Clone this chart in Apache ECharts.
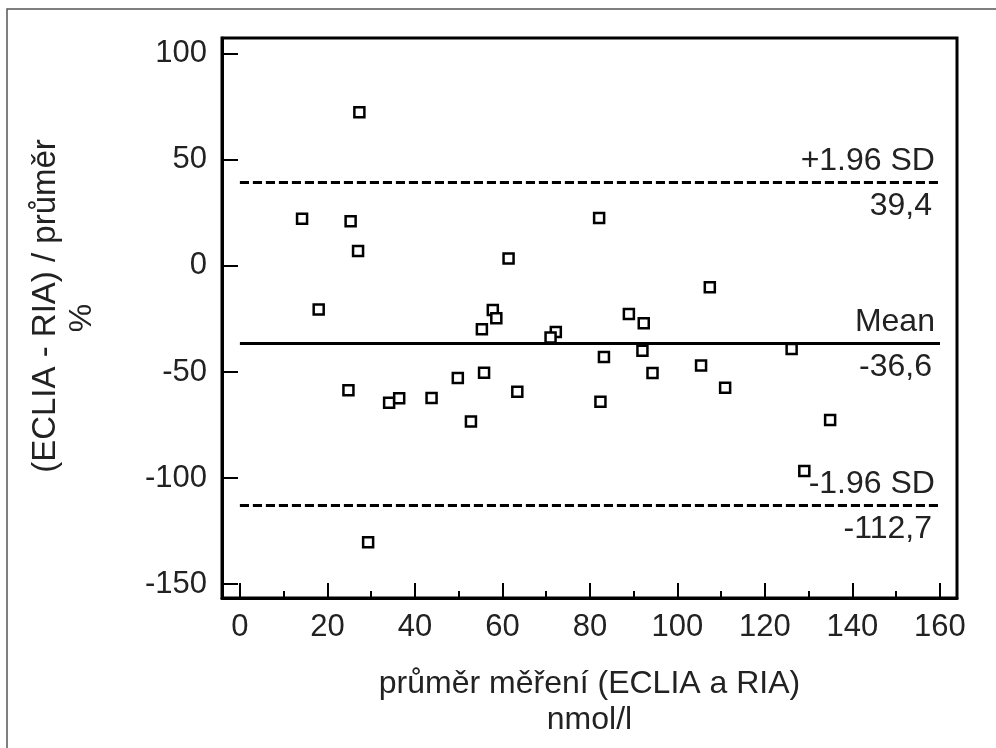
<!DOCTYPE html>
<html style="height: 100%">
<head>
    <meta charset="utf-8">
</head>
<body style="height: 100%; margin: 0; background: #fff">
    <div id="container" style="width: 996px; height: 748px"></div>
    <script type="text/javascript" src="https://cdn.jsdelivr.net/npm/echarts@6/dist/echarts.min.js"></script>
    <script type="text/javascript">
        // prumer mereni (x) a rozdil v % (y)
        var xValues = [27.3, 14.2, 25.3, 27.0, 18.0, 57.8, 58.6, 55.3, 55.8, 49.8, 24.8,
            34.1, 36.4, 43.8, 52.8, 29.3, 82.1, 61.4, 107.4, 88.9, 92.3, 72.2, 71.0,
            92.0, 83.2, 126.1, 94.3, 105.4, 63.4, 110.9, 82.4, 134.9, 129.0];
        var yValues = [72.5, 22.2, 21.1, 7.1, -20.6, -20.8, -24.7, -29.9, -50.4, -52.8, -58.6,
            -64.5, -62.4, -62.3, -73.4, -130.3, 22.6, 3.5, -10.0, -22.7, -27.0, -31.1, -33.8,
            -40.0, -42.9, -39.2, -50.5, -47.0, -59.3, -57.5, -64.0, -72.6, -96.7];

        var limitValues = [39.4, -36.6, -112.7];
        var limitNames = ['+1.96 SD', 'Mean', '-1.96 SD'];
        var limitTexts = ['39,4', '-36,6', '-112,7'];

        var xTicks = [0, 20, 40, 60, 80, 100, 120, 140, 160];
        var xMinorTicks = [10, 30, 50, 70, 90, 110, 130, 150];
        var yTicks = [-150, -100, -50, 0, 50, 100];

        var font = "'Liberation Sans', Arial, sans-serif";
        var textColor = '#222';

        var dom = document.getElementById("container");
        var myChart = echarts.init(dom, null, { renderer: 'canvas' });

        var points = xValues.map(function (x, i) { return [x, yValues[i]]; });

        var lines = [];
        limitValues.forEach(function (v, i) {
            var style = {
                color: '#000',
                width: 3,
                type: i === 1 ? 'solid' : [9, 4]
            };
            // popisek nad carou
            lines.push([{
                coord: [xTicks[0], v],
                lineStyle: style,
                label: {
                    show: true, position: 'insideEndTop', formatter: limitNames[i],
                    distance: 5, color: textColor, fontSize: 32, fontFamily: font
                }
            }, { coord: [xTicks[xTicks.length - 1], v], lineStyle: style }]);
            // hodnota pod carou
            lines.push([{
                coord: [xTicks[0], v],
                lineStyle: style,
                label: {
                    show: true, position: 'insideEndBottom', formatter: limitTexts[i],
                    distance: 8, color: textColor, fontSize: 32, fontFamily: font
                }
            }, { coord: [xTicks[xTicks.length - 1], v], lineStyle: style }]);
        });

        var option = {
            backgroundColor: '#fff',
            animation: false,
            graphic: [{
                type: 'rect',
                shape: { x: 7, y: 9, width: 1000, height: 800 },
                style: { fill: 'none', stroke: '#555', lineWidth: 1.5 },
                z: -1
            }],
            grid: {
                left: 222,
                right: 39,
                top: 38,
                bottom: 150,
                show: true,
                borderColor: '#000',
                borderWidth: 3,
                containLabel: false,
                outerBoundsMode: 'none'
            },
            xAxis: [{
                type: 'value',
                min: -4.1,
                max: 163.9,
                position: 'bottom',
                splitLine: { show: false },
                axisLine: { onZero: false, lineStyle: { color: '#000', width: 3 } },
                axisTick: {
                    inside: true, length: 15, customValues: xTicks,
                    lineStyle: { color: '#000', width: 2 }
                },
                axisLabel: {
                    customValues: xTicks, margin: 14,
                    color: textColor, fontSize: 31, fontFamily: font
                },
                name: 'průměr měření (ECLIA a RIA)\nnmol/l',
                nameLocation: 'middle',
                nameGap: 68,
                nameTextStyle: { color: textColor, fontSize: 32, fontFamily: font, lineHeight: 36 }
            }, {
                type: 'value',
                min: -4.1,
                max: 163.9,
                position: 'bottom',
                splitLine: { show: false },
                axisLine: { show: false, onZero: false },
                axisTick: {
                    inside: true, length: 7, customValues: xMinorTicks,
                    lineStyle: { color: '#000', width: 2 }
                },
                axisLabel: { show: false }
            }],
            yAxis: {
                type: 'value',
                min: -156.6,
                max: 107.5,
                splitLine: { show: false },
                axisLine: { onZero: false, lineStyle: { color: '#000', width: 3 } },
                axisTick: {
                    inside: true, length: 16, customValues: yTicks,
                    lineStyle: { color: '#000', width: 2 }
                },
                axisLabel: {
                    customValues: yTicks, margin: 15,
                    color: textColor, fontSize: 31, fontFamily: font
                },
                name: '{a|(ECLIA - RIA) / průměr}\n{b|%}',
                nameLocation: 'middle',
                nameRotate: 90,
                nameGap: 122,
                nameTextStyle: {
                    color: textColor, fontSize: 32, fontFamily: font, lineHeight: 36,
                    rich: {
                        a: { color: textColor, fontSize: 33, fontFamily: font, lineHeight: 36, padding: [0, 0, 0, 24] },
                        b: { color: textColor, fontSize: 32, fontFamily: font, lineHeight: 36 }
                    }
                }
            },
            series: [{
                type: 'scatter',
                xAxisIndex: 0,
                symbol: 'rect',
                symbolSize: 10,
                itemStyle: { color: '#fff', borderColor: '#000', borderWidth: 2.5, opacity: 1 },
                data: points,
                z: 3,
                markLine: {
                    silent: true,
                    symbol: 'none',
                    z: 2,
                    lineStyle: { color: '#000', width: 3 },
                    data: lines
                }
            }]
        };
        myChart.setOption(option);
    </script>
</body>
</html>
